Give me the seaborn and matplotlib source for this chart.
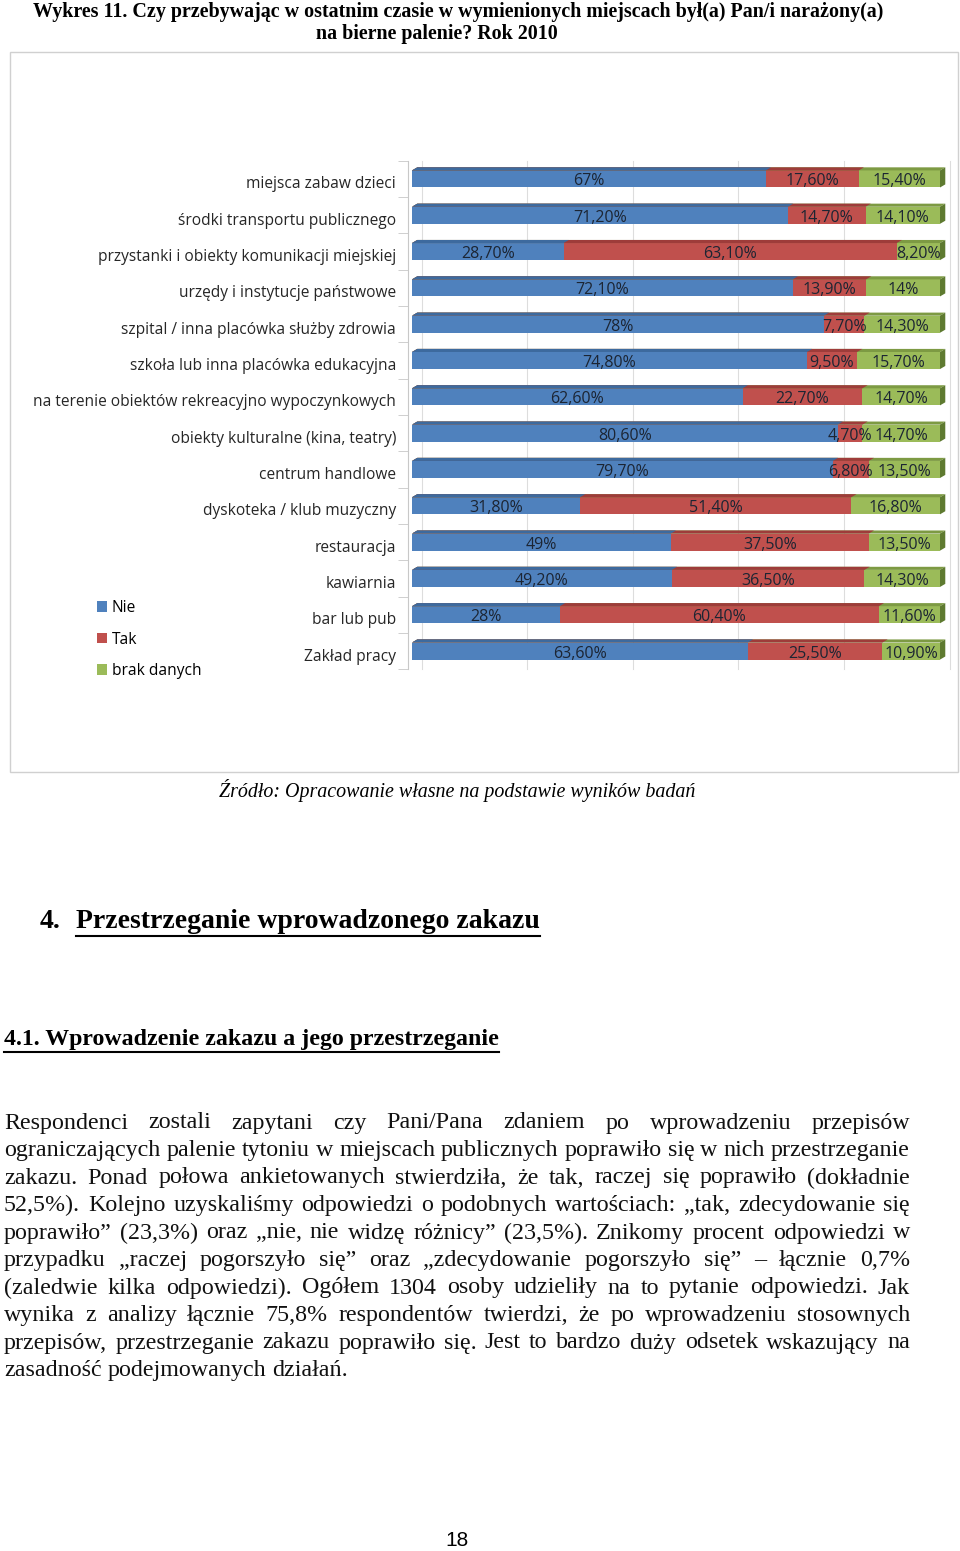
import matplotlib
matplotlib.use("Agg")
import matplotlib.pyplot as plt
import seaborn as sns
import pandas as pd
from matplotlib.patches import Patch, Polygon, Rectangle
from matplotlib.lines import Line2D
from matplotlib.transforms import ScaledTranslation

# ---- data ----
categories = [
    "miejsca zabaw dzieci",
    "środki transportu publicznego",
    "przystanki i obiekty komunikacji miejskiej",
    "urzędy i instytucje państwowe",
    "szpital / inna placówka służby zdrowia",
    "szkoła lub inna placówka edukacyjna",
    "na terenie obiektów rekreacyjno wypoczynkowych",
    "obiekty kulturalne (kina, teatry)",
    "centrum handlowe",
    "dyskoteka / klub muzyczny",
    "restauracja",
    "kawiarnia",
    "bar lub pub",
    "Zakład pracy",
]
nie = [67, 71.2, 28.7, 72.1, 78, 74.8, 62.6, 80.6, 79.7, 31.8, 49, 49.2, 28, 63.6]
tak = [17.6, 14.7, 63.1, 13.9, 7.7, 9.5, 22.7, 4.7, 6.8, 51.4, 37.5, 36.5, 60.4, 25.5]
brak = [15.4, 14.1, 8.2, 14, 14.3, 15.7, 14.7, 14.7, 13.5, 16.8, 13.5, 14.3, 11.6, 10.9]
series_names = ["Nie", "Tak", "brak danych"]

colors = {"Nie": "#4F81BD", "Tak": "#C0504D", "brak danych": "#9BBB59"}
tops = {"Nie": "#3D6A9E", "Tak": "#9E3C3A", "brak danych": "#7D9A43"}

df = pd.DataFrame({"cat": categories, "Nie": nie, "Tak": tak, "brak danych": brak})
df["c_nie"] = df["Nie"]
df["c_tak"] = df["Nie"] + df["Tak"]
df["c_brak"] = df["c_tak"] + df["brak danych"]

W, H = 960, 1551
fig = plt.figure(figsize=(W / 100, H / 100), dpi=100)


def fx(x):
    return x / W


def fy(y):
    return 1 - y / H


serif = "Liberation Serif"

# ---- page title ----
fig.text(fx(458), fy(12), "Wykres 11. Czy przebywając w ostatnim czasie w wymienionych miejscach był(a) Pan/i narażony(a)",
         ha="center", va="center", family=serif, weight="bold", fontsize=14.4)
fig.text(fx(437), fy(34), "na bierne palenie? Rok 2010",
         ha="center", va="center", family=serif, weight="bold", fontsize=14.4)

# chart frame
fig.add_artist(Rectangle((fx(10), fy(772)), fx(948), (772 - 52) / H, transform=fig.transFigure,
                         fill=False, edgecolor="#D0D0D0", linewidth=1))

# ---- chart ----
ax = fig.add_axes([fx(412), fy(669.2), 528 / W, (669.2 - 160.8) / H])
bw = 0.47
order = [("brak danych", "c_brak"), ("Tak", "c_tak"), ("Nie", "c_nie")]
for name, col in order:
    sns.barplot(data=df, x=col, y="cat", orient="h", color=colors[name], saturation=1,
                width=bw, linewidth=0, ax=ax)

ax.set_xlim(0, 100)
ax.set_ylim(13.5, -0.5)

# fake 3D top / side faces on each drawn bar
dx, dy = 1.0, 0.085
for (name, col), cont in zip(order, ax.containers):
    for p in cont.patches:
        x0, y0, w, h = p.get_x(), p.get_y(), p.get_width(), p.get_height()
        ytop = min(y0, y0 + h)
        ybot = max(y0, y0 + h)
        ax.add_patch(Polygon([(x0, ytop), (x0 + w, ytop), (x0 + w + dx, ytop - dy), (x0 + dx, ytop - dy)],
                             closed=True, facecolor=tops[name], edgecolor="none", zorder=3, clip_on=False))
        if name == "brak danych":
            ax.add_patch(Polygon([(x0 + w, ytop), (x0 + w + dx, ytop - dy), (x0 + w + dx, ybot - dy), (x0 + w, ybot)],
                                 closed=True, facecolor="#5E7A30", edgecolor="none", zorder=3, clip_on=False))


def fmt(v):
    if float(v).is_integer():
        return f"{int(v)}%"
    return f"{v:.2f}%".replace(".", ",")


lab_font = "Open Sans"
for i, row in df.iterrows():
    starts = [0, row["Nie"], row["c_tak"]]
    for s, name in zip(starts, series_names):
        v = row[name]
        ax.text(s + v / 2, i + 0.07, fmt(v), ha="center", va="center", fontsize=11.5,
                family=lab_font, color="#1C2533", zorder=5)

# gridlines on the back wall
for g in range(0, 101, 20):
    ax.axvline(g + 1.8, color="#DDDDDD", linewidth=0.8, zorder=0, clip_on=False)

ax.set_xlabel("")
ax.set_ylabel("")
ax.set_xticks([])
for s in ["top", "right", "bottom"]:
    ax.spines[s].set_visible(False)
ax.spines["left"].set_color("#C8C8C8")
ax.spines["left"].set_position(("outward", 3))
ax.set_yticks(range(len(categories)))
ax.set_yticklabels(categories)
ax.set_yticks([i + 0.5 for i in range(-1, len(categories))], minor=True)
ax.tick_params(axis="y", which="major", length=0, pad=8.5, labelsize=11.2, labelcolor="#262626")
ax.tick_params(axis="y", which="minor", length=7, color="#C8C8C8", direction="out")
for lab in ax.get_yticklabels():
    lab.set_family(lab_font)
    lab.set_transform(lab.get_transform() + ScaledTranslation(0, -3.5 / 100, fig.dpi_scale_trans))
ax.set_facecolor("none")

handles = [Patch(facecolor=colors[n], edgecolor="none") for n in series_names]
fig.legend(handles, series_names, loc="upper left", bbox_to_anchor=(fx(97), fy(600)),
           frameon=False, prop={"family": lab_font, "size": 11.2}, handlelength=0.65, handleheight=0.65,
           handletextpad=0.3, labelspacing=1.0, borderpad=0, borderaxespad=0)

# ---- rest of the page ----
fig.text(fx(457), fy(791), "Źródło: Opracowanie własne na podstawie wyników badań",
         ha="center", va="center", family=serif, style="italic", fontsize=14.4)

renderer = fig.canvas.get_renderer()


def underline(t, y):
    bb = t.get_window_extent(renderer)
    fig.add_artist(Line2D([bb.x0 / W, bb.x1 / W], [fy(y), fy(y)], transform=fig.transFigure,
                          color="black", linewidth=1.5))


fig.text(fx(40), fy(921), "4.", ha="left", va="center", family=serif, weight="bold", fontsize=20)
h1 = fig.text(fx(76), fy(921), "Przestrzeganie wprowadzonego zakazu", ha="left", va="center",
              family=serif, weight="bold", fontsize=20)
underline(h1, 936)
h2 = fig.text(fx(4), fy(1040), "4.1. Wprowadzenie zakazu a jego przestrzeganie", ha="left", va="center",
              family=serif, weight="bold", fontsize=17.2)
underline(h2, 1052)

para = [
    "Respondenci zostali zapytani czy Pani/Pana zdaniem po wprowadzeniu przepisów",
    "ograniczających palenie tytoniu w miejscach publicznych poprawiło się w nich przestrzeganie",
    "zakazu. Ponad połowa ankietowanych stwierdziła, że tak, raczej się poprawiło (dokładnie",
    "52,5%). Kolejno uzyskaliśmy odpowiedzi o podobnych wartościach: „tak, zdecydowanie się",
    "poprawiło” (23,3%) oraz „nie, nie widzę różnicy” (23,5%). Znikomy procent odpowiedzi w",
    "przypadku „raczej pogorszyło się” oraz „zdecydowanie pogorszyło się” – łącznie 0,7%",
    "(zaledwie kilka odpowiedzi). Ogółem 1304 osoby udzieliły na to pytanie odpowiedzi. Jak",
    "wynika z analizy łącznie 75,8% respondentów twierdzi, że po wprowadzeniu stosownych",
    "przepisów, przestrzeganie zakazu poprawiło się. Jest to bardzo duży odsetek wskazujący na",
    "zasadność podejmowanych działań.",
]
x_left, x_right = 4, 910


def width_of(s, size):
    t = fig.text(0, 0, s, family=serif, fontsize=size)
    w = t.get_window_extent(renderer).width
    t.remove()
    return w


# largest size (up to the reference's) at which every justified line still has a real gap
psize = 17.3
while psize > 12:
    ok = True
    for line in para[:-1]:
        words = line.split(" ")
        total = sum(width_of(w, psize) for w in words)
        if (x_right - x_left - total) / (len(words) - 1) < 3.5:
            ok = False
            break
    if ok:
        break
    psize -= 0.2

space_w = width_of("a b", psize) - width_of("ab", psize)
for k, line in enumerate(para):
    y = 1123 + k * 27.5
    words = line.split(" ")
    ws = [width_of(w, psize) for w in words]
    if k < len(para) - 1:
        gap = (x_right - x_left - sum(ws)) / (len(words) - 1)
    else:
        gap = space_w
    x = x_left
    for w, wd in zip(words, ws):
        fig.text(fx(x), fy(y), w, ha="left", va="center", family=serif, fontsize=psize, color="#111111")
        x += wd + gap

fig.text(fx(457), fy(1541), "18", ha="center", va="center", family="Liberation Sans", fontsize=15)

fig.savefig("out.png", dpi=100)
